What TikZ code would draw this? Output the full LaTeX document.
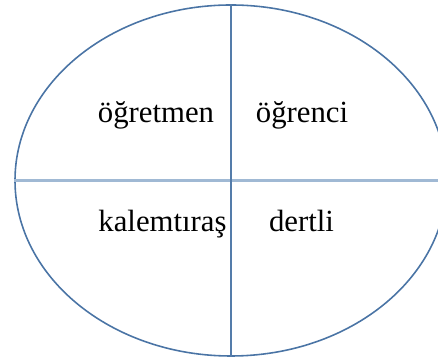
\documentclass[tikz,border=0pt]{standalone}
\usepackage{fontspec}
\setmainfont{Liberation Serif}
\usetikzlibrary{shapes.geometric}
\definecolor{ovalblue}{RGB}{74,116,165}
\definecolor{rowblue}{RGB}{160,185,212}
\definecolor{colblue}{RGB}{84,124,170}

\begin{document}
\begin{tikzpicture}[
  oval/.style={draw=ovalblue, line width=0.9pt, ellipse, inner sep=0pt, minimum width=8.64cm, minimum height=7.02cm},
  word/.style={anchor=base, inner sep=0pt, font=\fontsize{17.5}{21}\selectfont}
]
\useasboundingbox (0,0) rectangle (8.76,7.2);
\clip (0,0) rectangle (8.76,7.2);
\node[oval] (oval) at (4.62,3.59) {};
% dividing lines
\draw[rowblue, line width=1.4pt] (oval.west) -- (oval.east);
\draw[colblue, line width=1pt] (oval.north) -- (oval.south);
\node[word] (teacher) at (3.12,4.74) {öğretmen};
\node[word] (student) at (6.04,4.74) {öğrenci};
\node[word] (sharpener) at (3.25,2.56) {kalemtıraş};
\node[word] (sad) at (6.03,2.56) {dertli};
\end{tikzpicture}
\end{document}
